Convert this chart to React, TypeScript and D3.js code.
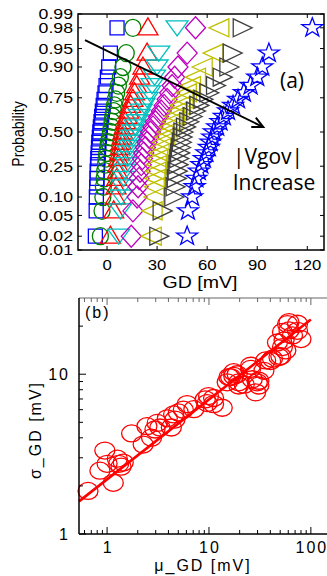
import React from "react";
import * as d3 from "d3";

// ---------- Panel (a) data ----------
const probs = [0.02, 0.06, 0.10, 0.14, 0.18, 0.22, 0.26, 0.30, 0.34, 0.38, 0.42, 0.46, 0.50, 0.54, 0.58, 0.62, 0.66, 0.70, 0.74, 0.78, 0.82, 0.86, 0.90, 0.94, 0.98];
const gdSquares = [-7, -6.5, -6.4, -6.2, -6.0, -5.9, -5.7, -5.5, -5.3, -5.1, -4.9, -4.6, -4.3, -4.0, -3.6, -3.2, -2.8, -2.3, -1.8, -1.2, -0.6, 0.2, 1.0, 2.0, 6.0];
const gdCircles = [-4, -3, -2.5, -2.2, -1.8, -1.4, -1.0, -0.6, -0.2, 0.3, 0.8, 1.4, 2.0, 2.5, 3.0, 3.4, 3.9, 4.4, 5.0, 5.8, 6.8, 8.0, 9.5, 11.5, 15.5];
const gdTriUp = [2, 4, 5, 5.4, 5.8, 6.2, 6.6, 7.0, 7.5, 8.0, 8.5, 9.0, 9.5, 10.3, 11.0, 12.0, 13.0, 14.2, 15.5, 16.5, 17.8, 19.5, 21.5, 24, 24.5];
const gdTriDown = [7, 8, 8.5, 9.2, 10.0, 10.8, 11.5, 12.2, 12.9, 13.6, 14.2, 14.9, 15.5, 16.8, 18.0, 19.3, 20.6, 22.2, 24.0, 25.5, 27.0, 28.5, 30.0, 31.0, 42.0];
const gdDiamonds = [14.5, 15.5, 18, 18.6, 19.2, 19.8, 20.5, 21.2, 22.0, 23.0, 24.0, 25.0, 26.0, 27.5, 29.0, 30.8, 32.5, 34.2, 36.0, 37.5, 39.0, 40.5, 42.5, 48.0, 53.0];
const gdTriLeft = [26.5, 27, 28, 28.3, 28.7, 29.1, 29.5, 30.3, 31.2, 32.2, 33.3, 34.6, 36.0, 37.4, 38.9, 40.5, 42.2, 43.8, 45.5, 47.5, 50.0, 53.0, 57.0, 63.5, 67.0];
const gdTriRight = [31, 33, 40, 40.8, 41.5, 42.0, 42.5, 43.0, 43.5, 44.0, 44.5, 45.0, 45.5, 47.0, 49.0, 51.0, 53.0, 55.0, 57.5, 61.0, 65.0, 69.0, 73.0, 75.0, 81.0];
const gdStars = [48, 48.5, 51, 52.5, 53.5, 55, 56.5, 58, 59.5, 61, 62, 63, 64, 66, 68, 70, 72.5, 75.5, 78.5, 82, 86, 90, 93, 97, 123];

const probTicks = [0.01, 0.02, 0.05, 0.10, 0.25, 0.50, 0.75, 0.90, 0.95, 0.98, 0.99];
const gdTicks = [0, 30, 60, 90, 120];
// arrow annotation in data coordinates [GD, probability]
const arrowFrom = [-13.2, 0.965];
const arrowTo = [93.6, 0.539];

// ---------- Panel (b) data ----------
const muGD = [0.65, 0.85, 0.95, 1.15, 1.0, 1.26, 1.37, 1.44, 1.3, 1.74, 2.26, 2.46, 2.73, 2.95, 3.1, 3.3, 3.9, 4.27, 4.5, 4.64, 5.0, 5.6, 6.1, 7.1, 9.2, 9.6, 9.9, 11.1, 11.1, 13.5, 15.1, 15.7, 16.3, 17.5, 17.5, 18.9, 19.6, 19.6, 22.2, 25.6, 25.6, 26.6, 28.7, 29.8, 30.9, 30.9, 34.6, 36, 40.3, 42, 47, 48.6, 50.7, 52.6, 52.6, 54.6, 56.8, 59, 61, 61, 66, 74, 74, 80];
const sigmaGD = [1.86, 2.49, 3.33, 2.09, 2.75, 2.96, 2.64, 2.8, 2.75, 4.26, 3.63, 4.73, 4.01, 4.51, 4.96, 4.64, 5.3, 4.64, 5.6, 5.2, 5.77, 6.0, 6.5, 6.04, 6.96, 6.6, 7.3, 6.5, 7.1, 6.17, 8.9, 9.6, 9.6, 9.76, 10.3, 10.0, 8.9, 8.5, 8.6, 11.3, 10.8, 9.3, 7.7, 8.9, 9.1, 8.5, 10.5, 12.2, 12.1, 12.5, 15.8, 12.8, 13.0, 14.8, 18.4, 16.3, 14.1, 20.6, 18.8, 21.2, 17.5, 20.7, 18.7, 16.6];
const fitMu = [0.53, 100];
const fitSigma = [1.6, 22];
const muTicks = [1, 10, 100];
const sigmaTicks = [1, 10];

// inverse normal CDF (Acklam) for the probability axis
function probit(p: number): number {
  const a = [-3.969683028665376e1, 2.209460984245205e2, -2.759285104469687e2, 1.38357751867269e2, -3.066479806614716e1, 2.506628277459239];
  const b = [-5.447609879822406e1, 1.615858368580409e2, -1.556989798598866e2, 6.680131188771972e1, -1.328068155288572e1];
  const c = [-7.784894002430293e-3, -3.223964580411365e-1, -2.400758277161838, -2.549732539343734, 4.374664141464968, 2.938163982698783];
  const d = [7.784695709041462e-3, 3.224671290700398e-1, 2.445134137142996, 3.754408661907416];
  const pl = 0.02425;
  if (p < pl) {
    const q = Math.sqrt(-2 * Math.log(p));
    return (((((c[0] * q + c[1]) * q + c[2]) * q + c[3]) * q + c[4]) * q + c[5]) / ((((d[0] * q + d[1]) * q + d[2]) * q + d[3]) * q + 1);
  }
  if (p > 1 - pl) return -probit(1 - p);
  const q = p - 0.5;
  const r = q * q;
  return (((((a[0] * r + a[1]) * r + a[2]) * r + a[3]) * r + a[4]) * r + a[5]) * q / (((((b[0] * r + b[1]) * r + b[2]) * r + b[3]) * r + b[4]) * r + 1);
}

function starPath(R: number, r: number): string {
  const pts: string[] = [];
  for (let i = 0; i < 10; i++) {
    const ang = -Math.PI / 2 + (i * Math.PI) / 5;
    const rad = i % 2 === 0 ? R : r;
    pts.push(`${(rad * Math.cos(ang) * 1.1).toFixed(2)},${(rad * Math.sin(ang)).toFixed(2)}`);
  }
  return "M" + pts.join("L") + "Z";
}

const shapes: Record<string, string> = {
  square: "M-7,-7L7,-7L7,7L-7,7Z",
  circle: "M-8,0A8,8.5 0 1,0 8,0A8,8.5 0 1,0 -8,0Z",
  up: "M0,-10L10,7L-10,7Z",
  down: "M-11,-7L11,-7L0,8Z",
  diamond: "M0,-11L10,0L0,11L-10,0Z",
  left: "M-10,0L10,-9L10,9Z",
  right: "M10,0L-9,-9L-9,9Z",
  star: starPath(10, 4),
};

const series = [
  { vals: gdSquares, color: "#0000ff", shape: "square" },
  { vals: gdCircles, color: "#008000", shape: "circle" },
  { vals: gdTriUp, color: "#ff0000", shape: "up" },
  { vals: gdTriDown, color: "#00bfbf", shape: "down" },
  { vals: gdDiamonds, color: "#bf00bf", shape: "diamond" },
  { vals: gdTriLeft, color: "#bfbf00", shape: "left" },
  { vals: gdTriRight, color: "#404040", shape: "right" },
  { vals: gdStars, color: "#0000ff", shape: "star" },
];

const tickFont = "'Liberation Sans', Arial, sans-serif";

function SText(props: { x: number; y: number; sx: number; size: number; anchor: string; children: React.ReactNode; rotate?: boolean; ls?: number; font?: string }) {
  const { x, y, sx, size, anchor, children, rotate, ls, font } = props;
  const tf = rotate ? `translate(${x},${y}) rotate(-90) scale(1,${sx})` : `translate(${x},${y}) scale(${sx},1)`;
  return (
    <text transform={tf} textAnchor={anchor} fontFamily={font || tickFont} fontSize={size} letterSpacing={ls || 0} fill="#000">
      {children}
    </text>
  );
}

export default function App() {
  // panel (a) scales
  const ax = { l: 78, r: 324, t: 14, b: 250 };
  const xA = d3.scaleLinear().domain([-17.4, 130]).range([ax.l, ax.r]);
  const zA = d3.scaleLinear().domain([-2.326, 2.326]).range([ax.b, ax.t]);
  const yA = (p: number) => zA(probit(p));

  // panel (b) scales
  const bx = { l: 79, r: 327, t: 298, b: 534 };
  const xB = d3.scaleLog().domain([0.53, 144]).range([bx.l, bx.r]);
  const yB = d3.scaleLog().domain([1, 30]).range([bx.b, bx.t]);

  const muMinor = d3.range(2, 10).flatMap((k) => [k * 0.1, k, k * 10]).filter((v) => v >= 0.53 && v <= 144 && ![1, 10, 100].includes(v));
  const sigmaMinor = [2, 3, 4, 5, 6, 7, 8, 9, 20];

  const fitLine = d3.line<number>().x((_, i) => xB(fitMu[i])).y((_, i) => yB(fitSigma[i]));

  // arrow
  const ax1 = xA(arrowFrom[0]), ay1 = yA(arrowFrom[1]);
  const ax2 = xA(arrowTo[0]), ay2 = yA(arrowTo[1]);
  const ang = Math.atan2(ay2 - ay1, ax2 - ax1);
  const hl = 12;
  const w1 = [ax2 - hl * Math.cos(ang - 0.45), ay2 - hl * Math.sin(ang - 0.45)];
  const w2 = [ax2 - hl * Math.cos(ang + 0.45), ay2 - hl * Math.sin(ang + 0.45)];

  return (
    <svg width={327} height={576} style={{ position: "absolute", left: 0, top: 0, background: "#fff" }}>
      <rect x={0} y={0} width={327} height={576} fill="#fff" />
      {/* ---------- Panel (a) ---------- */}
      <g>
        {series.map((s, si) => (
          <g key={si} fill="none" stroke={s.color} strokeWidth={1.3}>
            {s.vals.map((v, i) => (
              <path key={i} d={shapes[s.shape]} transform={`translate(${xA(v)},${yA(probs[i])})`} />
            ))}
          </g>
        ))}
        {/* frame */}
        <rect x={ax.l} y={ax.t} width={ax.r - ax.l} height={ax.b - ax.t} fill="none" stroke="#000" strokeWidth={1.5} />
        {probTicks.map((p) => (
          <g key={p}>
            <line x1={ax.l} x2={ax.l + 4} y1={yA(p)} y2={yA(p)} stroke="#000" strokeWidth={1} />
            <line x1={ax.r} x2={ax.r - 4} y1={yA(p)} y2={yA(p)} stroke="#000" strokeWidth={1} />
            <SText x={73} y={yA(p) + 5.3} sx={1.22} size={14.5} anchor="end">
              {p.toFixed(2)}
            </SText>
          </g>
        ))}
        {gdTicks.map((g) => (
          <g key={g}>
            <line x1={xA(g)} x2={xA(g)} y1={ax.b} y2={ax.b - 4} stroke="#000" strokeWidth={1} />
            <line x1={xA(g)} x2={xA(g)} y1={ax.t} y2={ax.t + 4} stroke="#000" strokeWidth={1} />
            <SText x={xA(g)} y={270} sx={1.15} size={14.5} anchor="middle">
              {g}
            </SText>
          </g>
        ))}
        <SText x={200} y={288} sx={1.15} size={17} anchor="middle">
          GD [mV]
        </SText>
        <SText x={24} y={134} sx={1.15} size={14} anchor="middle" rotate>
          Probability
        </SText>
        {/* arrow */}
        <line x1={ax1} y1={ay1} x2={ax2} y2={ay2} stroke="#000" strokeWidth={2} />
        <polyline points={`${w1[0]},${w1[1]} ${ax2},${ay2} ${w2[0]},${w2[1]}`} fill="none" stroke="#000" strokeWidth={2} />
        <text x={292} y={88} textAnchor="middle" fontFamily="'Open Sans', sans-serif" fontSize={21} fill="#000">
          (a)
        </text>
        <text x={268} y={164} textAnchor="middle" fontFamily="'Open Sans', sans-serif" fontSize={21} fill="#000">
          |Vgov|
        </text>
        <text x={274} y={190} textAnchor="middle" fontFamily="'Open Sans', sans-serif" fontSize={21} fill="#000">
          Increase
        </text>
      </g>

      {/* ---------- Panel (b) ---------- */}
      <g>
        <g fill="none" stroke="#ff0000" strokeWidth={1.3}>
          {muGD.map((m, i) => (
            <ellipse key={i} cx={xB(m)} cy={yB(sigmaGD[i])} rx={10} ry={8.5} />
          ))}
        </g>
        <path d={fitLine(fitMu) || ""} fill="none" stroke="#ff0000" strokeWidth={2.6} />
        {/* frame */}
        <line x1={bx.l} x2={bx.r} y1={bx.t} y2={bx.t} stroke="#666" strokeWidth={1.2} />
        <line x1={bx.l} x2={bx.l} y1={bx.t} y2={bx.b} stroke="#000" strokeWidth={1.5} />
        <line x1={bx.l} x2={bx.r} y1={bx.b} y2={bx.b} stroke="#000" strokeWidth={1.5} />
        {muTicks.map((m) => (
          <g key={m}>
            <line x1={xB(m)} x2={xB(m)} y1={bx.b} y2={bx.b - 7} stroke="#000" />
            <line x1={xB(m)} x2={xB(m)} y1={bx.t} y2={bx.t + 7} stroke="#666" />
            <text x={xB(m) + 1} y={553} textAnchor="middle" fontFamily={tickFont} fontSize={16} letterSpacing={2} fill="#000">
              {m}
            </text>
          </g>
        ))}
        {muMinor.map((m) => (
          <g key={m}>
            <line x1={xB(m)} x2={xB(m)} y1={bx.b} y2={bx.b - 4} stroke="#000" />
            <line x1={xB(m)} x2={xB(m)} y1={bx.t} y2={bx.t + 4} stroke="#666" />
          </g>
        ))}
        {sigmaTicks.map((s) => (
          <g key={s}>
            <line x1={bx.l} x2={bx.l + 7} y1={yB(s)} y2={yB(s)} stroke="#000" />
            <text x={70} y={yB(s)} dy="0.36em" textAnchor="end" fontFamily={tickFont} fontSize={16} letterSpacing={2} fill="#000">
              {s}
            </text>
          </g>
        ))}
        {sigmaMinor.map((s) => (
          <line key={s} x1={bx.l} x2={bx.l + 4} y1={yB(s)} y2={yB(s)} stroke="#000" />
        ))}
        <text x={85} y={318} fontFamily={tickFont} fontSize={16} letterSpacing={2} fill="#000">
          (b)
        </text>
        <text x={203} y={571} textAnchor="middle" fontFamily={tickFont} fontSize={16} letterSpacing={2} fill="#000">
          μ_GD [mV]
        </text>
        <text transform="translate(41,430) rotate(-90)" textAnchor="middle" fontFamily={tickFont} fontSize={16} letterSpacing={2} fill="#000">
          σ_GD [mV]
        </text>
      </g>
    </svg>
  );
}
